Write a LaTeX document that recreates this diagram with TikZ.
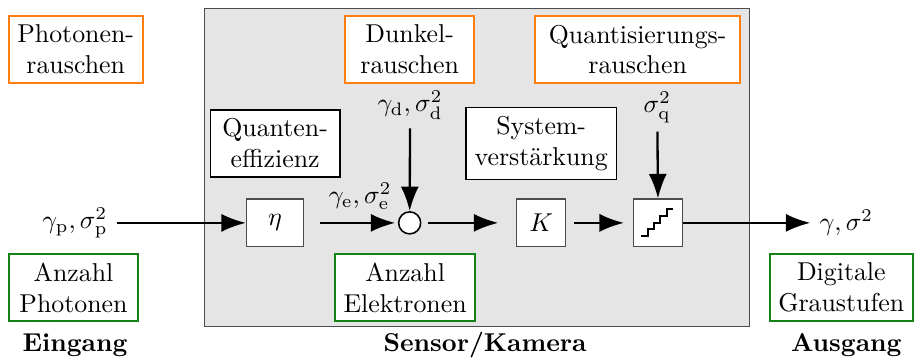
\documentclass[tikz,border=0pt]{standalone}
\usepackage{tikz}
\usetikzlibrary{arrows.meta,positioning,calc}
\usepackage{xcolor}
\definecolor{NoiseOrange}{RGB}{255,127,14}
\definecolor{CountGreen}{RGB}{20,130,20}
\definecolor{SensorGray}{RGB}{229,229,229}
\tikzset{
  noisebox/.style={draw=NoiseOrange, fill=white, thick, minimum width=1.76cm,
    minimum height=0.91cm, align=center},
  countbox/.style={draw=CountGreen, fill=white, thick, minimum width=1.76cm,
    minimum height=0.91cm, align=center},
  descbox/.style={draw=black, fill=white, semithick, minimum width=1.76cm,
    minimum height=0.91cm, align=center},
  blockbox/.style={draw=black!70, fill=white,
    minimum width=0.78cm, minimum height=0.65cm},
  sumnode/.style={draw=black, fill=white, circle, semithick,
    minimum size=0.3cm, inner sep=0pt},
  arrow/.style={-{Latex[length=9.5pt,width=7pt]}, line width=0.9pt},
  stagelabel/.style={font=\bfseries}
}

\begin{document}
\begin{tikzpicture}
  \useasboundingbox (0,0) rectangle (12.52,-4.90);
  % sensor / camera
  \draw[draw=black!70, fill=SensorGray] (2.784,-0.109) rectangle (10.196,-4.438);

  % noise sources
  \node[noisebox] (phnoise) at (1.03,-0.674) {Photonen-\\rauschen};
  \node[noisebox] (dknoise) at (5.575,-0.674) {Dunkel-\\rauschen};
  \node[noisebox, minimum width=2.79cm] (qnoise) at (8.678,-0.674) {Quantisierungs-\\rauschen};

  \node[descbox] (qeff) at (3.744,-1.953) {Quanten-\\effizienz};
  \node[descbox] (gain) at (7.365,-1.953) {System-\\verstärkung};

  % signal chain
  \node (gp) at (1.02,-3.033) {$\gamma_\mathrm{p}, \sigma^2_\mathrm{p}$};
  \node[blockbox] (eta) at (3.744,-3.033) {$\eta$};
  \node[sumnode] (sum) at (5.575,-3.033) {};
  \node[blockbox, minimum width=0.66cm] (K) at (7.365,-3.033) {$K$};
  \node[blockbox, minimum width=0.67cm] (quant) at (8.957,-3.033) {};
  \node (out) at (11.517,-3.033) {$\gamma, \sigma^2$};
  \draw[thick] ($(quant.center)+(-0.231,-0.176)$)
    \foreach \i in {1,...,4} { -- ++(0.087,0) -- ++(0,0.09) } -- ++(0.087,0);

  \node (ge) at (4.9,-2.668) {$\gamma_\mathrm{e}, \sigma^2_\mathrm{e}$};
  \node (gd) at (5.581,-1.429) {$\gamma_\mathrm{d}, \sigma^2_\mathrm{d}$};
  \node (sq) at (8.944,-1.457) {$\sigma^2_\mathrm{q}$};

  \draw[arrow] (gp) -- (eta);
  \draw[arrow, shorten <=6pt, shorten >=1pt] (eta) -- (sum);
  \draw[arrow, shorten <=2.5pt, shorten >=7pt] (sum) -- (K);
  \draw[arrow, shorten <=3pt, shorten >=3.5pt] (K) -- (quant);
  \draw[arrow] (quant) -- (out);
  \draw[arrow] (gd) -- (sum);
  \draw[arrow] (sq) -- (quant);

  % quantities
  \node[countbox] (nphot) at (1.0,-3.914) {Anzahl\\Photonen};
  \node[countbox] (nel) at (5.513,-3.914) {Anzahl\\Elektronen};
  \node[countbox] (digi) at (11.449,-3.914) {Digitale\\Graustufen};

  \node[stagelabel] (input) at (1.021,-4.696) {Eingang};
  \node[stagelabel] (sensor) at (6.602,-4.696) {Sensor/Kamera};
  \node[stagelabel] (output) at (11.517,-4.696) {Ausgang};
\end{tikzpicture}
\end{document}
